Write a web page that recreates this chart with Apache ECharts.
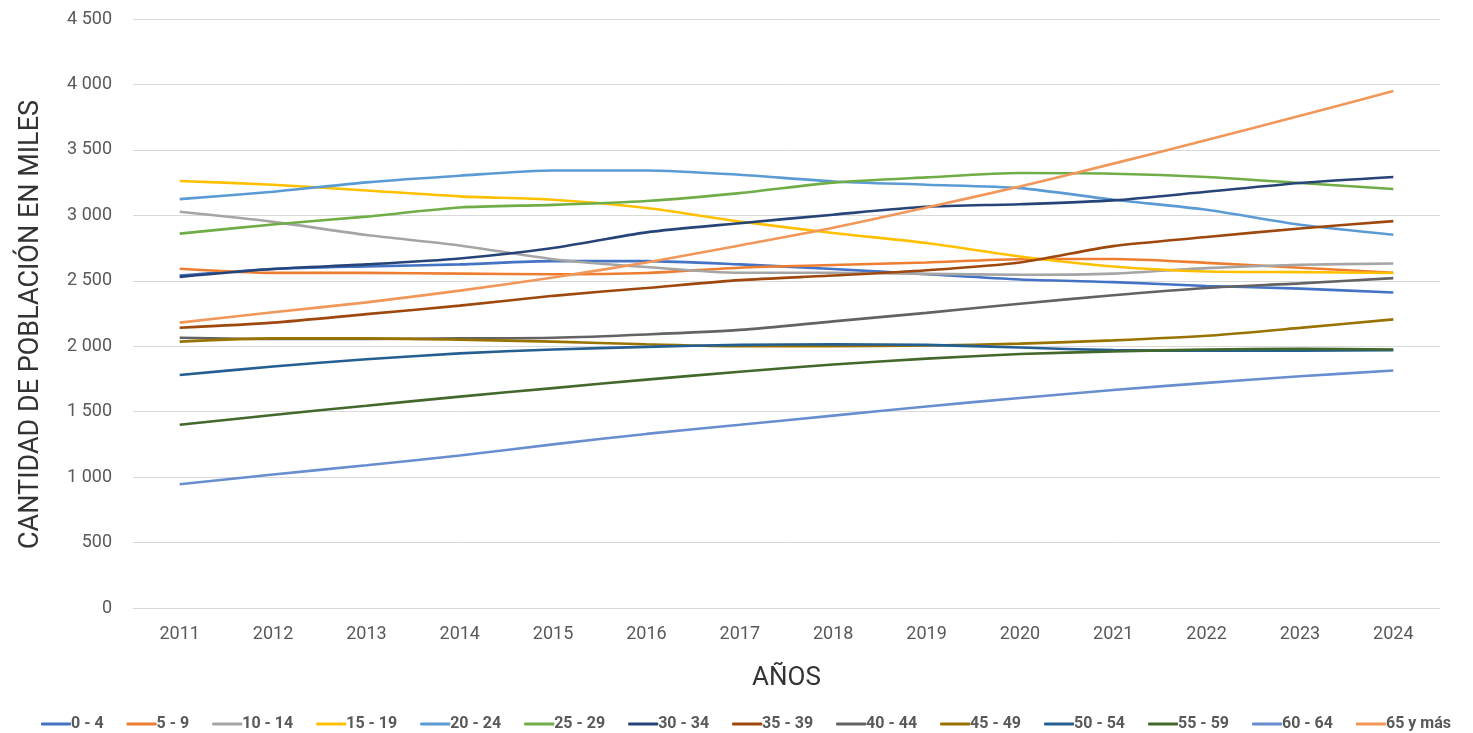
<!DOCTYPE html>
<html>
<head>
<meta charset="utf-8">
<script src="https://cdn.jsdelivr.net/npm/echarts@6/dist/echarts.min.js"></script>
<style>
  html, body { margin: 0; padding: 0; background: #fff; }
  #chart { width: 1473px; height: 733px; }
</style>
</head>
<body>
<div id="chart"></div>
<script>
const years = ['2011', '2012', '2013', '2014', '2015', '2016', '2017', '2018', '2019', '2020', '2021', '2022', '2023', '2024']

const g0_4 = [2540, 2590, 2610, 2625, 2650, 2650, 2625, 2590, 2550, 2510, 2490, 2460, 2440, 2410]
const g5_9 = [2592, 2560, 2560, 2555, 2550, 2560, 2600, 2620, 2640, 2665, 2666, 2637, 2600, 2561]
const g10_14 = [3027, 2950, 2850, 2770, 2665, 2605, 2561, 2561, 2553, 2546, 2555, 2597, 2622, 2632]
const g15_19 = [3262, 3234, 3190, 3145, 3119, 3056, 2953, 2865, 2788, 2686, 2609, 2571, 2566, 2559]
const g20_24 = [3124, 3180, 3252, 3303, 3343, 3343, 3310, 3259, 3234, 3208, 3119, 3043, 2928, 2852]
const g25_29 = [2860, 2930, 2990, 3060, 3080, 3110, 3170, 3250, 3290, 3323, 3318, 3293, 3247, 3201]
const g30_34 = [2530, 2590, 2625, 2670, 2750, 2870, 2940, 3005, 3065, 3085, 3114, 3180, 3247, 3293]
const g35_39 = [2141, 2180, 2245, 2310, 2385, 2445, 2505, 2540, 2580, 2640, 2765, 2834, 2900, 2956]
const g40_44 = [2065, 2055, 2055, 2060, 2065, 2090, 2125, 2190, 2255, 2325, 2390, 2445, 2480, 2520]
const g45_49 = [2035, 2060, 2060, 2050, 2035, 2015, 2000, 2000, 2005, 2020, 2045, 2080, 2140, 2205]
const g50_54 = [1780, 1845, 1900, 1945, 1975, 1995, 2010, 2015, 2010, 1990, 1970, 1965, 1965, 1970]
const g55_59 = [1400, 1475, 1545, 1615, 1680, 1745, 1805, 1860, 1905, 1940, 1960, 1975, 1980, 1975]
const g60_64 = [945, 1020, 1090, 1165, 1250, 1330, 1400, 1470, 1540, 1605, 1665, 1720, 1770, 1815]
const g65_mas = [2180, 2260, 2335, 2425, 2525, 2640, 2770, 2905, 3060, 3220, 3395, 3575, 3760, 3950]

const groupNames = ['0 - 4', '5 - 9', '10 - 14', '15 - 19', '20 - 24', '25 - 29', '30 - 34',
  '35 - 39', '40 - 44', '45 - 49', '50 - 54', '55 - 59', '60 - 64', '65 y más']
const groupData = [g0_4, g5_9, g10_14, g15_19, g20_24, g25_29, g30_34,
  g35_39, g40_44, g45_49, g50_54, g55_59, g60_64, g65_mas]
const groupColors = ['#4472C4', '#ED7D31', '#A5A5A5', '#FFC000', '#5B9BD5', '#70AD47', '#264478',
  '#9E480E', '#636363', '#997300', '#255E91', '#43682B', '#698ED0', '#F1975A']

const myChart = echarts.init(document.getElementById('chart'))

const txt = '#595959'
const fontFam = 'Roboto, "Noto Sans", sans-serif'

let option = {
  animation: false,
  color: groupColors,
  textStyle: { fontFamily: fontFam },
  grid: { left: 133, right: 33, top: 19, bottom: 125 },
  legend: {
    bottom: -4,
    left: 36,
    itemWidth: 30,
    itemHeight: 3,
    itemGap: 23,
    icon: 'roundRect',
    textStyle: { color: txt, fontSize: 16, fontWeight: 'bold', padding: [0, 0, 0, -5] },
    data: groupNames
  },
  xAxis: {
    type: 'category',
    boundaryGap: true,
    data: years,
    name: 'AÑOS',
    nameLocation: 'middle',
    nameGap: 57,
    nameTextStyle: { color: '#333333', fontSize: 26 },
    axisLine: { show: true, lineStyle: { color: '#D9D9D9' } },
    axisTick: { show: false },
    axisLabel: { color: txt, fontSize: 18, margin: 17 }
  },
  yAxis: {
    type: 'value',
    min: 0,
    max: 4500,
    interval: 500,
    name: 'CANTIDAD DE POBLACIÓN EN MILES',
    nameLocation: 'middle',
    nameGap: 88,
    nameTextStyle: { color: '#333333', fontSize: 27, padding: [0, 22, 0, 0] },
    axisLine: { show: false },
    axisTick: { show: false },
    splitLine: { lineStyle: { color: '#D9D9D9' } },
    axisLabel: {
      color: txt,
      fontSize: 18,
      margin: 21,
      formatter: function (v) {
        return String(v).replace(/\B(?=(\d{3})+(?!\d))/g, ' ')
      }
    }
  },
  series: groupNames.map(function (name, i) {
    return {
      name: name,
      type: 'line',
      data: groupData[i],
      smooth: 0.25,
      showSymbol: false,
      symbol: 'none',
      lineStyle: { width: 2.6 }
    }
  })
}

myChart.setOption(option, true)
</script>
</body>
</html>
